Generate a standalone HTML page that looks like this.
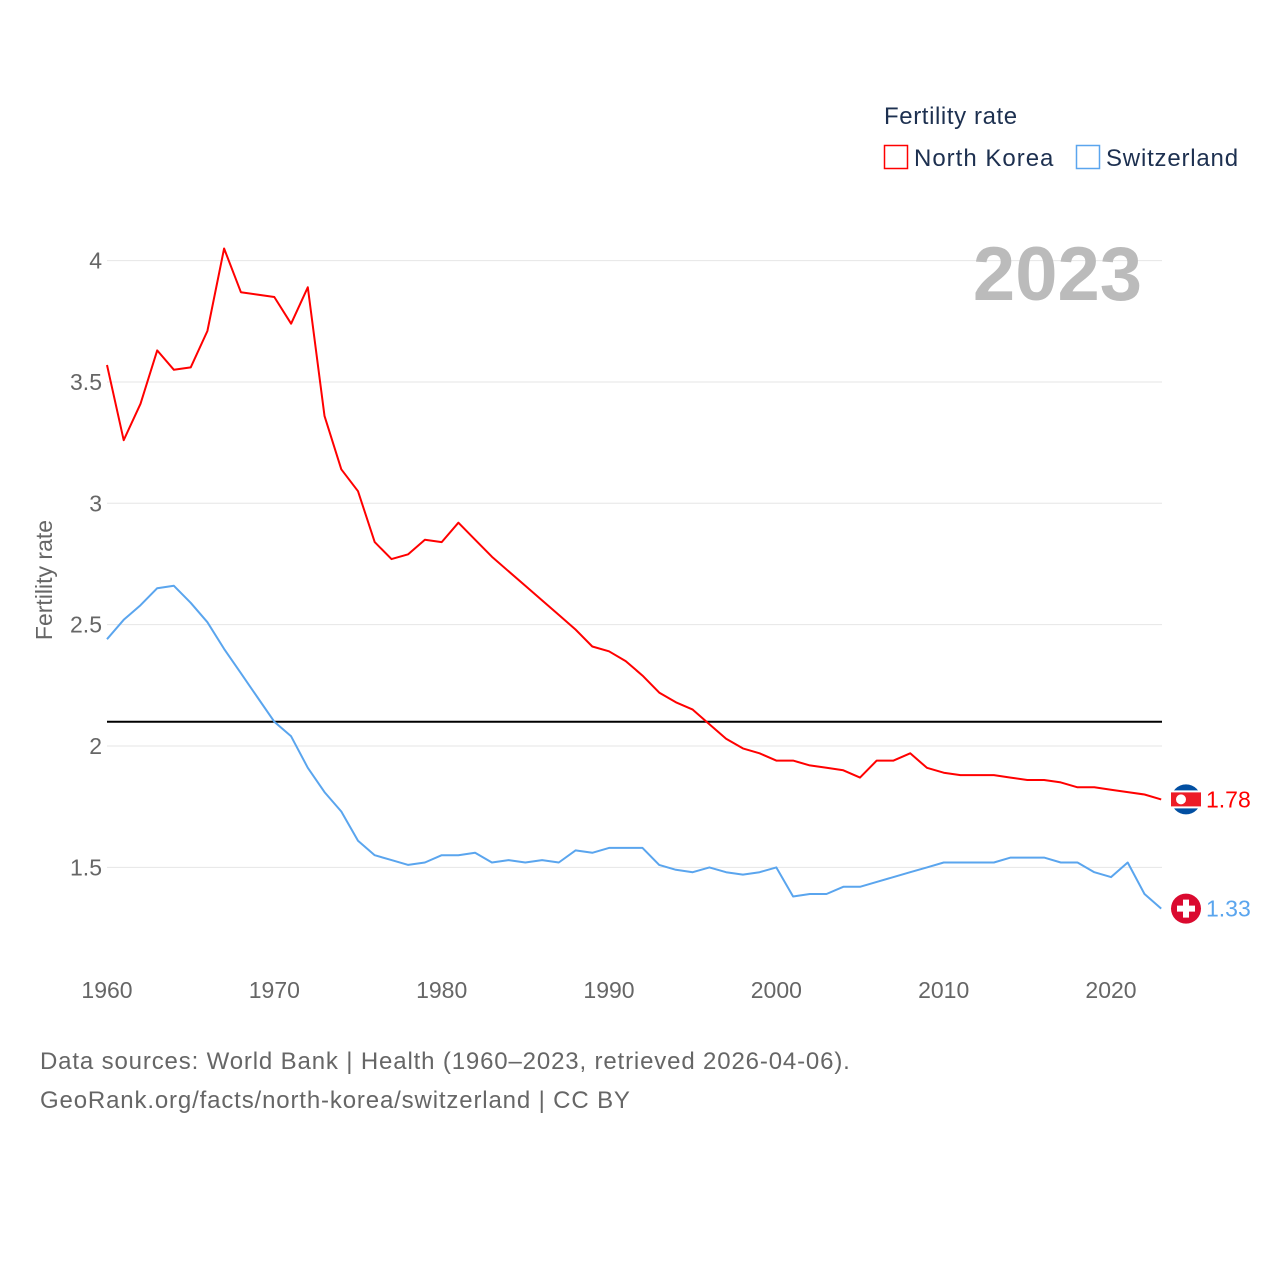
<!DOCTYPE html>
<html><head><meta charset="utf-8">
<style>
body{margin:0;background:#fff;font-family:"Liberation Sans",sans-serif;}
#wrap{position:relative;width:1280px;height:1280px;}
</style></head>
<body>
<div id="wrap">
<svg id="chart" width="1280" height="1280">
<g id="grid"></g>
<g id="yticks"></g>
<g id="xticks"></g>
<text x="52" y="580" transform="rotate(-90 52 580)" text-anchor="middle" font-size="23" fill="#666">Fertility rate</text>
<text x="1142" y="300" text-anchor="end" font-size="76" font-weight="bold" fill="#bbb">2023</text>
<g id="series"></g>
<text x="884" y="124" font-size="24" fill="#1d3050" letter-spacing="0.6">Fertility rate</text>
<g>
<rect x="884.5" y="145.5" width="23" height="23" fill="none" stroke="#f00" stroke-width="1.5"/>
<text x="914" y="166" font-size="24" fill="#1d3050" letter-spacing="1">North Korea</text></g>
<g>
<rect x="1076.5" y="145.5" width="23" height="23" fill="none" stroke="#5aa5ee" stroke-width="1.5"/>
<text x="1106" y="166" font-size="24" fill="#1d3050" letter-spacing="0.8">Switzerland</text></g>
<text x="40" y="1069" font-size="24" fill="#666" letter-spacing="0.85">Data sources: World Bank | Health (1960–2023, retrieved 2026-04-06).</text>
<text x="40" y="1108" font-size="24" fill="#666" letter-spacing="0.85">GeoRank.org/facts/north-korea/switzerland | CC BY</text>
</svg>
</div>
<script>
const years=[];for(let y=1960;y<=2023;y++)years.push(y);
const northKorea=[3.57,3.26,3.41,3.63,3.55,3.56,3.71,4.05,3.87,3.86,3.85,3.74,3.89,3.36,3.14,3.05,2.84,2.77,2.79,2.85,2.84,2.92,2.85,2.78,2.72,2.66,2.60,2.54,2.48,2.41,2.39,2.35,2.29,2.22,2.18,2.15,2.09,2.03,1.99,1.97,1.94,1.94,1.92,1.91,1.90,1.87,1.94,1.94,1.97,1.91,1.89,1.88,1.88,1.88,1.87,1.86,1.86,1.85,1.83,1.83,1.82,1.81,1.80,1.78];
const switzerland=[2.44,2.52,2.58,2.65,2.66,2.59,2.51,2.40,2.30,2.20,2.10,2.04,1.91,1.81,1.73,1.61,1.55,1.53,1.51,1.52,1.55,1.55,1.56,1.52,1.53,1.52,1.53,1.52,1.57,1.56,1.58,1.58,1.58,1.51,1.49,1.48,1.50,1.48,1.47,1.48,1.50,1.38,1.39,1.39,1.42,1.42,1.44,1.46,1.48,1.50,1.52,1.52,1.52,1.52,1.54,1.54,1.54,1.52,1.52,1.48,1.46,1.52,1.39,1.33];
const yTicks=[1.5,2,2.5,3,3.5,4];
const xTicks=[1960,1970,1980,1990,2000,2010,2020];
const refValue=2.1;
const NS="http://www.w3.org/2000/svg";
const xs=y=>107+(y-1960)*(1111-107)/60;
const ys=v=>988.7-(v-1)*242.7;
function mk(tag,attrs,parent){const e=document.createElementNS(NS,tag);for(const k in attrs)e.setAttribute(k,attrs[k]);parent.appendChild(e);return e;}
const grid=document.getElementById('grid'),yt=document.getElementById('yticks'),xt=document.getElementById('xticks'),ser=document.getElementById('series');
yTicks.forEach(v=>{
 const l=mk('line',{x1:107,x2:1162,y1:ys(v),y2:ys(v),stroke:'#e6e6e6','stroke-width':1},grid);
 
 
 const t=mk('text',{x:102,y:ys(v)+8,'text-anchor':'end','font-size':23,fill:'#666'},yt);
 t.textContent=String(v);
 
 
});
xTicks.forEach(v=>{
 const t=mk('text',{x:xs(v),y:998,'text-anchor':'middle','font-size':23,fill:'#666'},xt);
 t.textContent=String(v);
 
 
});
const ref=mk('line',{x1:107,x2:1162,y1:ys(refValue),y2:ys(refValue),stroke:'#000','stroke-width':2},ser);


function line(data,color,name){
 const p=mk('path',{d:data.map((v,i)=>(i?'L':'M')+xs(years[i]).toFixed(1)+','+ys(v).toFixed(1)).join(''),fill:'none',stroke:color,'stroke-width':2,'stroke-linejoin':'round'},ser);
 
 
}
line(switzerland,'#5aa5ee','switzerland-line');
line(northKorea,'#f00','north-korea-line');
const nkLast=northKorea[northKorea.length-1],chLast=switzerland[switzerland.length-1];
const nkFlag=mk('g',{},ser);


const cy1=ys(nkLast);
mk('circle',{cx:1186,cy:cy1,r:15,fill:'#024fa2'},nkFlag);
mk('rect',{x:1171,y:cy1-9,width:30,height:18,fill:'#fff'},nkFlag);
mk('rect',{x:1171,y:cy1-7,width:30,height:14,fill:'#ed1c27'},nkFlag);
mk('circle',{cx:1181,cy:cy1,r:5,fill:'#fff'},nkFlag);
const nkLab=mk('text',{x:1206,y:cy1+8,'font-size':23,fill:'#f00'},ser);
nkLab.textContent=nkLast.toFixed(2);


const chFlag=mk('g',{},ser);


const cy2=ys(chLast);
mk('circle',{cx:1186,cy:cy2,r:15,fill:'#da0a2f'},chFlag);
mk('rect',{x:1183,y:cy2-9,width:6,height:18,fill:'#fff'},chFlag);
mk('rect',{x:1177,y:cy2-3,width:18,height:6,fill:'#fff'},chFlag);
const chLab=mk('text',{x:1206,y:cy2+8,'font-size':23,fill:'#5aa5ee'},ser);
chLab.textContent=chLast.toFixed(2);


</script>
</body></html>
